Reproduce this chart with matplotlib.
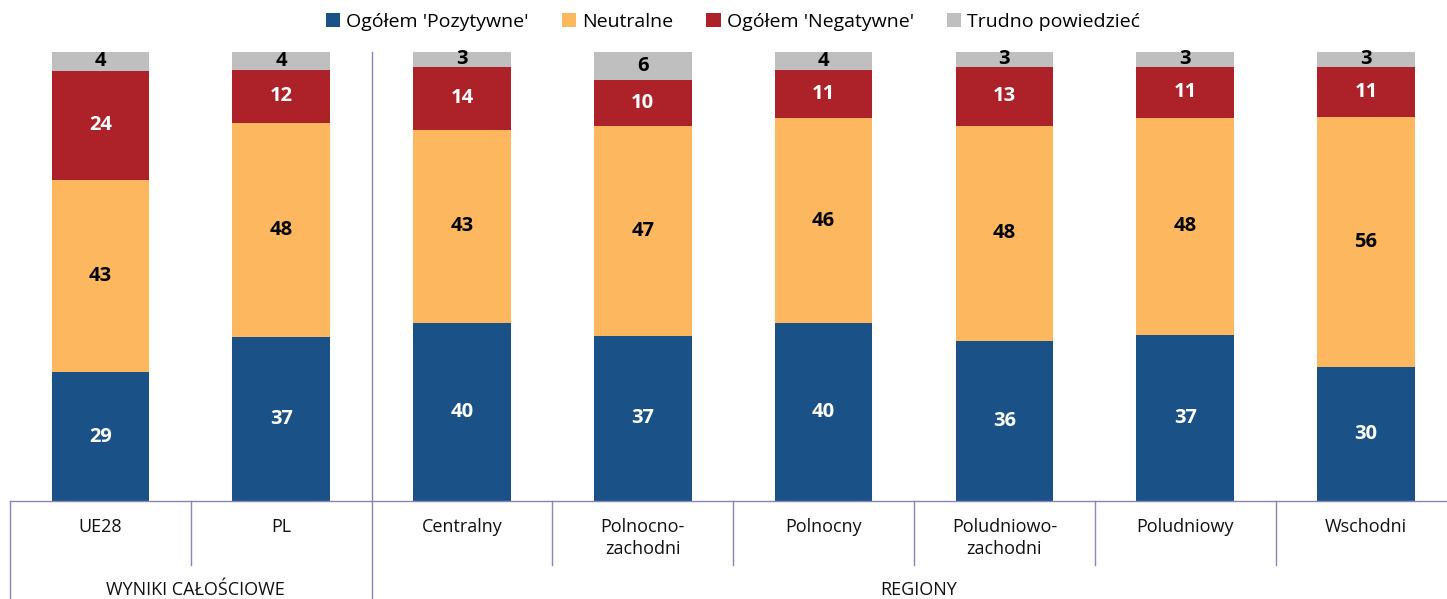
import matplotlib
matplotlib.use("Agg")
import matplotlib.pyplot as plt
from matplotlib.patches import Patch
import numpy as np

# --------- data (segment sizes; labels are rounded) ---------
categories = ["UE28", "PL", "Centralny", "Polnocno-\nzachodni", "Polnocny",
              "Poludniowo-\nzachodni", "Poludniowy", "Wschodni"]
groups = [("WYNIKI CAŁOŚCIOWE", 0, 2), ("REGIONY", 2, 8)]

pozytywne = [28.7, 36.6, 39.7, 36.8, 39.6, 35.7, 37.0, 29.9]
neutralne = [42.8, 47.6, 43.0, 46.8, 45.6, 47.9, 48.3, 55.7]
negatywne = [24.3, 11.8, 14.0, 10.2, 10.7, 13.1, 11.4, 11.1]
trudno    = [4.2, 4.0, 3.3, 6.2, 4.1, 3.3, 3.3, 3.3]

series = [
    ("Ogółem 'Pozytywne'", pozytywne, "#1a5186", "white"),
    ("Neutralne",          neutralne, "#fdb85f", "black"),
    ("Ogółem 'Negatywne'", negatywne, "#ad2229", "white"),
    ("Trudno powiedzieć",  trudno,    "#bfbfbf", "black"),
]

plt.rcParams["font.family"] = ["Open Sans", "DejaVu Sans"]

W, H = 1447, 599
fig = plt.figure(figsize=(W / 100, H / 100), dpi=100)
# axes: x from 10px to right edge, y from 501px (bottom) to 52px (top)
ax = fig.add_axes([10 / W, 1 - 501 / H, (W - 10) / W, (501 - 52) / H])

x = np.arange(len(categories))
bottom = np.zeros(len(categories))
for name, vals, col, tcol in series:
    vals = np.array(vals, dtype=float)
    ax.bar(x, vals, width=0.54, bottom=bottom, color=col, label=name, clip_on=False)
    for xi, b, v in zip(x, bottom, vals):
        ax.text(xi, b + v / 2, f"{int(v + 0.5)}", ha="center", va="center",
                color=tcol, fontsize=14.5, fontweight="bold", clip_on=False)
    bottom += vals

cat_px = 180.8
ax.set_xlim(-0.5, -0.5 + (W - 10) / cat_px)
ax.set_ylim(0, 100)
ax.axis("off")

line_col = "#8a86b4"
ax.plot([-0.5, 8], [0, 0], color=line_col, lw=1, clip_on=False)

# category dividers below axis
trans = ax.get_xaxis_transform()
px = 1.0 / (501 - 52)  # one pixel in axes-y units
for b in range(9):
    xb = b - 0.5
    depth = 98 if b in (0, 2) else 64
    ax.plot([xb, xb], [0, -depth * px], transform=trans, color=line_col, lw=1, clip_on=False)
# group divider through plot area
ax.plot([1.5, 1.5], [0, 1], transform=trans, color=line_col, lw=1, clip_on=False)

for xi, lab in zip(x, categories):
    ax.text(xi, -17 * px, lab, transform=trans, ha="center", va="top",
            fontsize=13, linespacing=1.3, color="#111111")

for gname, s, e in groups:
    xc = (s - 0.5 + (e - 0.5 + 0.05)) / 2
    ax.text(xc, -89 * px, gname, transform=trans, ha="center", va="center",
            fontsize=13, color="#111111")

handles = [Patch(facecolor=c, edgecolor="none", label=n) for n, _, c, _ in series]
fig.legend(handles=handles, loc="center", bbox_to_anchor=(733 / W, 1 - 22 / H),
           ncol=4, frameon=False, fontsize=14, handlelength=0.75, handleheight=0.75,
           handletextpad=0.3, columnspacing=1.7)

fig.savefig("out.png", dpi=100)
